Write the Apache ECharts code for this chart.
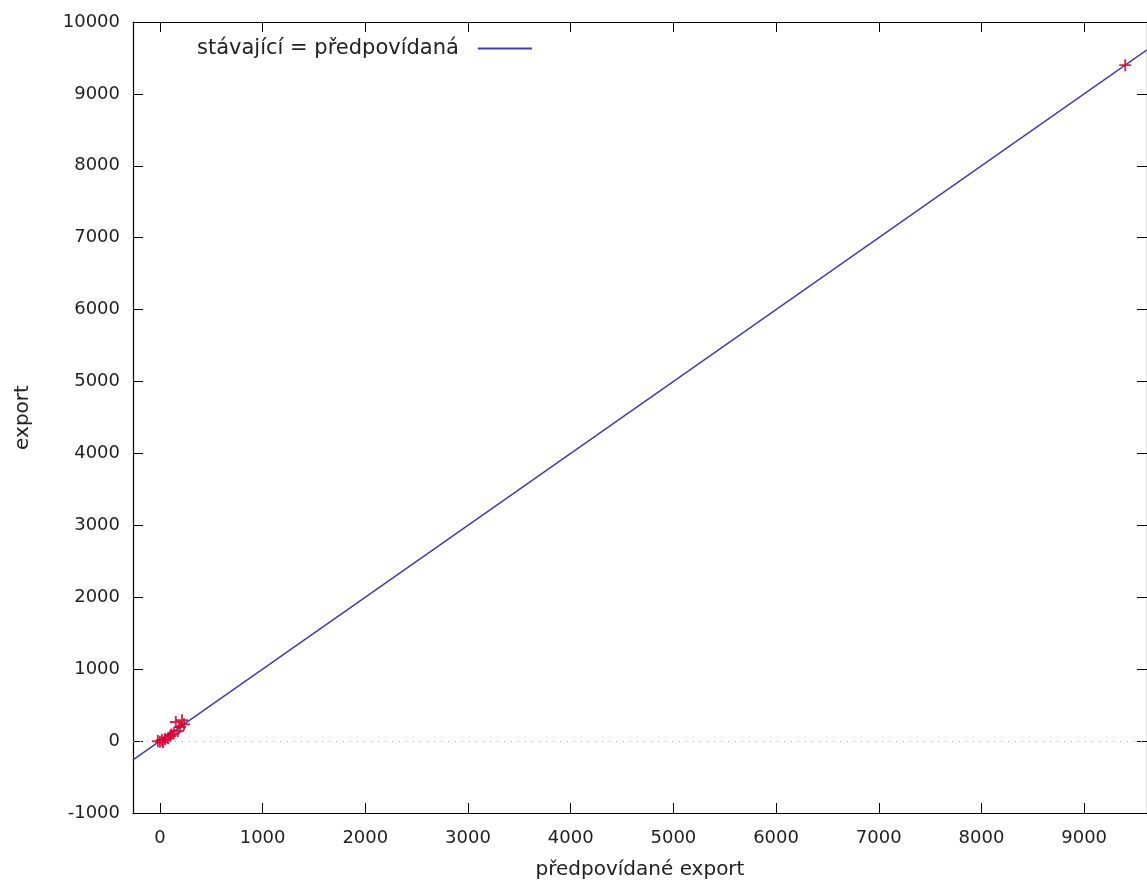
<!DOCTYPE html>
<html>
<head>
<meta charset="utf-8">
<script src="https://cdn.jsdelivr.net/npm/echarts@6/dist/echarts.min.js"></script>
<style>
  html, body { margin: 0; padding: 0; background: #fff; }
  #chart { width: 1147px; height: 889px; }
</style>
</head>
<body>
<div id="chart"></div>
<script>
const predicted = [-20, 0, 20, 30, 50, 80, 100, 110, 135, 155, 175, 195, 215, 235, 9400]
const actual = [0, -10, 15, -15, 30, 40, 70, 90, 110, 265, 140, 195, 290, 235, 9400]
// y = x reference line end points
const refLine = [-262, 9612]
const xTicks = [0, 1000, 2000, 3000, 4000, 5000, 6000, 7000, 8000, 9000]

const FONT = 'DejaVu Sans'
const plus = 'path://M4.2,0H5.8V4.2H10V5.8H5.8V10H4.2V5.8H0V4.2H4.2Z'
const tickTxt = { fontFamily: FONT, fontSize: 18, color: '#222' }
const nameTxt = { fontFamily: FONT, fontSize: 20, color: '#222' }

const chart = echarts.init(document.getElementById('chart'))

const baseX = {
  type: 'value',
  min: -262,
  max: 9612,
  axisLine: { onZero: false, lineStyle: { color: '#000', width: 1.2 } },
  axisTick: { inside: true, length: 10, lineStyle: { color: '#000' }, customValues: xTicks },
  splitLine: { show: false },
}
const baseY = {
  type: 'value',
  min: -1000,
  max: 10000,
  interval: 1000,
  axisLine: { onZero: false, lineStyle: { color: '#000', width: 1.2 } },
  axisTick: { inside: true, length: 10, lineStyle: { color: '#000' } },
  splitLine: { show: false },
}

chart.setOption({
  animation: false,
  backgroundColor: '#fff',
  textStyle: { fontFamily: FONT },
  grid: { left: 133, right: -4, top: 22, bottom: 76 },
  legend: {
    left: 192,
    top: 33,
    align: 'right',
    itemWidth: 54,
    itemHeight: 2,
    textStyle: { ...nameTxt, fontSize: 21, padding: [0, 14, 0, 0] },
    data: [{ name: 'stávající = předpovídaná', icon: 'rect' }],
  },
  xAxis: [
    {
      ...baseX,
      position: 'bottom',
      name: 'předpovídané export',
      nameLocation: 'middle',
      nameGap: 47,
      nameTextStyle: nameTxt,
      axisLabel: { ...tickTxt, margin: 16, customValues: xTicks, formatter: (v) => String(v) },
    },
    { ...baseX, position: 'top', axisLabel: { show: false } },
  ],
  yAxis: [
    {
      ...baseY,
      position: 'left',
      name: 'export',
      nameLocation: 'middle',
      nameGap: 100,
      nameTextStyle: nameTxt,
      axisLabel: { ...tickTxt, margin: 13, formatter: (v) => String(v) },
    },
    { ...baseY, position: 'right', axisLabel: { show: false } },
  ],
  series: [
    {
      name: 'stávající = předpovídaná',
      type: 'line',
      data: refLine.map((v) => [v, v]),
      showSymbol: false,
      symbol: 'none',
      lineStyle: { color: '#3c3caa', width: 1.5 },
      itemStyle: { color: '#3c3caa' },
      markLine: {
        silent: true,
        symbol: 'none',
        label: { show: false },
        lineStyle: { color: '#aaa', type: [1, 6], width: 1 },
        data: [{ yAxis: 0 }],
      },
      z: 2,
    },
    {
      name: 'data',
      type: 'scatter',
      data: predicted.map((x, i) => [x, actual[i]]),
      symbol: plus,
      symbolSize: 12,
      itemStyle: { color: '#d40030', opacity: 0.85 },
      z: 3,
    },
  ],
})
</script>
</body>
</html>
